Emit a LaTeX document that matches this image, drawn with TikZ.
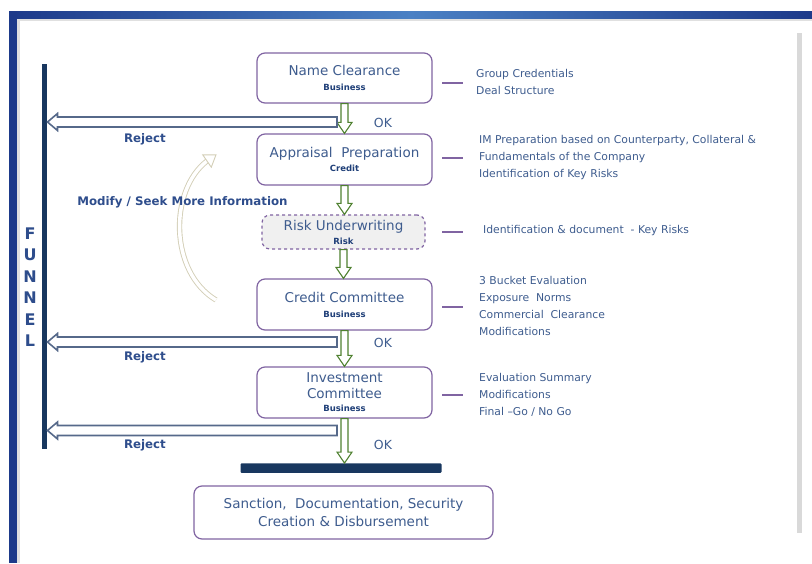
\documentclass[tikz,border=0pt]{standalone}
\usepackage{fontspec}
\setmainfont{DejaVu Sans}
\usepackage{tikz}
\usepackage{xcolor}
\usetikzlibrary{arrows.meta, positioning, calc}

\definecolor{framedark}{HTML}{1D3A8A}
\definecolor{framelight}{HTML}{4A80C4}
\definecolor{stepline}{HTML}{8064A2}
\definecolor{steptext}{HTML}{3E5C8E}
\definecolor{subtext}{HTML}{1F3F78}
\definecolor{labelblue}{HTML}{2E4D8C}
\definecolor{okgreen}{HTML}{4F8130}
\definecolor{rejectgray}{HTML}{56698A}
\definecolor{navybar}{HTML}{18375F}
\definecolor{loopbeige}{HTML}{D3CEB6}

\newcommand{\sublabel}[1]{{\fontsize{8.5}{9}\selectfont\bfseries\color{subtext}#1}}

\newcommand{\okarrow}[2]{%
  \draw[okstyle] ($(#1.south)+(-3.5,0)$) -- ($(#1.south |- #2.north)+(-3.5,-11)$)
    -- ($(#1.south |- #2.north)+(-7.5,-11)$) -- (#1.south |- #2.north)
    -- ($(#1.south |- #2.north)+(7.5,-11)$) -- ($(#1.south |- #2.north)+(3.5,-11)$)
    -- ($(#1.south)+(3.5,0)$) -- cycle;}

\newcommand{\rejectarrow}[1]{%
  \draw[rejectstyle] ($(#1)+(0,-5)$) -- ($(#1 -| ftop)+(13,-5)$) -- ($(#1 -| ftop)+(13,-8.5)$)
    -- ($(#1 -| ftop)+(3,0)$) -- ($(#1 -| ftop)+(13,8.5)$) -- ($(#1 -| ftop)+(13,5)$)
    -- ($(#1)+(0,5)$) -- cycle;}

\begin{document}
\begin{tikzpicture}[x=1pt, y=-1pt,
    every node/.style={inner sep=0pt},
    stepbox/.style={draw=stepline, line width=1.2pt, rounded corners=8pt, fill=white,
      minimum width=175pt, minimum height=50pt, align=center, text=steptext,
      font=\fontsize{13.5}{15}\selectfont},
    riskbox/.style={stepbox, dashed, fill=black!6, minimum width=163pt, minimum height=34pt},
    sidetext/.style={anchor=west, align=left, text=steptext, font=\fontsize{10.8}{17}\selectfont},
    sidedash/.style={draw=stepline, line width=1.5pt},
    oklabel/.style={text=steptext, font=\fontsize{12.5}{14}\selectfont},
    bluelabel/.style={text=labelblue, font=\fontsize{11.8}{13}\selectfont\bfseries},
    okstyle/.style={draw=okgreen, line width=1.1pt, fill=white},
    rejectstyle/.style={draw=rejectgray, line width=1.6pt, fill=white},
    funnelline/.style={draw=navybar, line width=5.5pt},
    loopstyle/.style={draw=loopbeige, line width=0.9pt, double=white, double distance=3.5pt},
    loophead/.style={draw=loopbeige, line width=0.9pt, fill=white}]

    \useasboundingbox (0,0) rectangle (812,563);

    % frame
    \fill[black!12] (17,18) rectangle (812,21);
    \fill[black!12] (17,18) rectangle (20,563);
    \shade[left color=framedark, right color=framedark, middle color=framelight] (9,11) rectangle (812,18);
    \fill[framedark] (9,11) rectangle (17,563);
    \fill[black!15] (797,33) rectangle (802,533);

    % funnel
    \coordinate (ftop) at (44.5,64);
    \coordinate (fbot) at (44.5,449);
    \draw[funnelline] (ftop) -- (fbot);
    \node[text=labelblue, font=\fontsize{16}{21.5}\selectfont\bfseries, align=center] (funnel) at (30,287) {F\\U\\N\\N\\E\\L};

    % steps
    \node[stepbox] (clearance) at (344.5,78) {Name Clearance\\[0pt]\sublabel{Business}};
    \node[stepbox, minimum height=51pt] (appraisal) at (344.5,159.5) {Appraisal\ \ Preparation\\[-1pt]\sublabel{Credit}};
    \node[riskbox] (underwriting) at (343.5,232) {Risk Underwriting\\[-1pt]\sublabel{Risk}};
    \node[stepbox, minimum height=51pt] (creditcom) at (344.5,304.5) {Credit Committee\\[0pt]\sublabel{Business}};
    \node[stepbox, minimum height=51pt] (investcom) at (344.5,392.5) {Investment\\[1pt]Committee\\[-2pt]\sublabel{Business}};
    \node[fill=navybar, rounded corners=1pt, minimum width=201pt, minimum height=9.5pt] (stopbar) at (341,468) {};
    \node[stepbox, minimum width=299pt, minimum height=53pt, font=\fontsize{13.5}{18}\selectfont] (sanction) at (343.5,512.5)
      {Sanction,\ \ Documentation, Security\\Creation \& Disbursement};

    \okarrow{clearance}{appraisal}
    \okarrow{appraisal}{underwriting}
    \okarrow{underwriting}{creditcom}
    \okarrow{creditcom}{investcom}
    \okarrow{investcom}{stopbar}

    \node[oklabel] (ok1) at (383,123) {OK};
    \node[oklabel] (ok2) at (383,343) {OK};
    \node[oklabel] (ok3) at (383,445) {OK};

    % rejects
    \coordinate (rej1) at (337,122);
    \coordinate (rej2) at (337,342);
    \coordinate (rej3) at (337,430.5);
    \rejectarrow{rej1}
    \rejectarrow{rej2}
    \rejectarrow{rej3}
    \node[bluelabel] (rejlabel1) at (145,139.5) {Reject};
    \node[bluelabel] (rejlabel2) at (145,357.5) {Reject};
    \node[bluelabel] (rejlabel3) at (145,445.5) {Reject};

    % modify loop
    \coordinate (loopstart) at (216,300);
    \coordinate (loopend) at (207,161);
    \draw[loopstyle] (loopstart) .. controls (169,272) and (169,190) .. (loopend);
    \draw[loophead] ($(loopend)+(4.3,6.2)$) -- ($(loopend)+(9,-6.2)$) -- ($(loopend)+(-4.3,-6.2)$) -- cycle;
    \node[bluelabel] (modify) at (182.5,202) {Modify / Seek More Information};

    % notes
    \draw[sidedash] (442,83) -- (463,83);
    \draw[sidedash] (442,158) -- (463,158);
    \draw[sidedash] (442,232) -- (463,232);
    \draw[sidedash] (442,307) -- (463,307);
    \draw[sidedash] (442,395) -- (463,395);
    \node[sidetext] (note1) at (476,81.5) {Group Credentials\\Deal Structure};
    \node[sidetext] (note2) at (479,158) {IM Preparation based on Counterparty, Collateral \&\\Fundamentals of the Company\\Identification of Key Risks};
    \node[sidetext] (note3) at (483,231) {Identification \& document\ \ - Key Risks};
    \node[sidetext] (note4) at (479,306) {3 Bucket Evaluation\\Exposure\ \ Norms\\Commercial\ \ Clearance\\Modifications};
    \node[sidetext] (note5) at (479,394.5) {Evaluation Summary\\Modifications\\Final --Go / No Go};
\end{tikzpicture}
\end{document}
